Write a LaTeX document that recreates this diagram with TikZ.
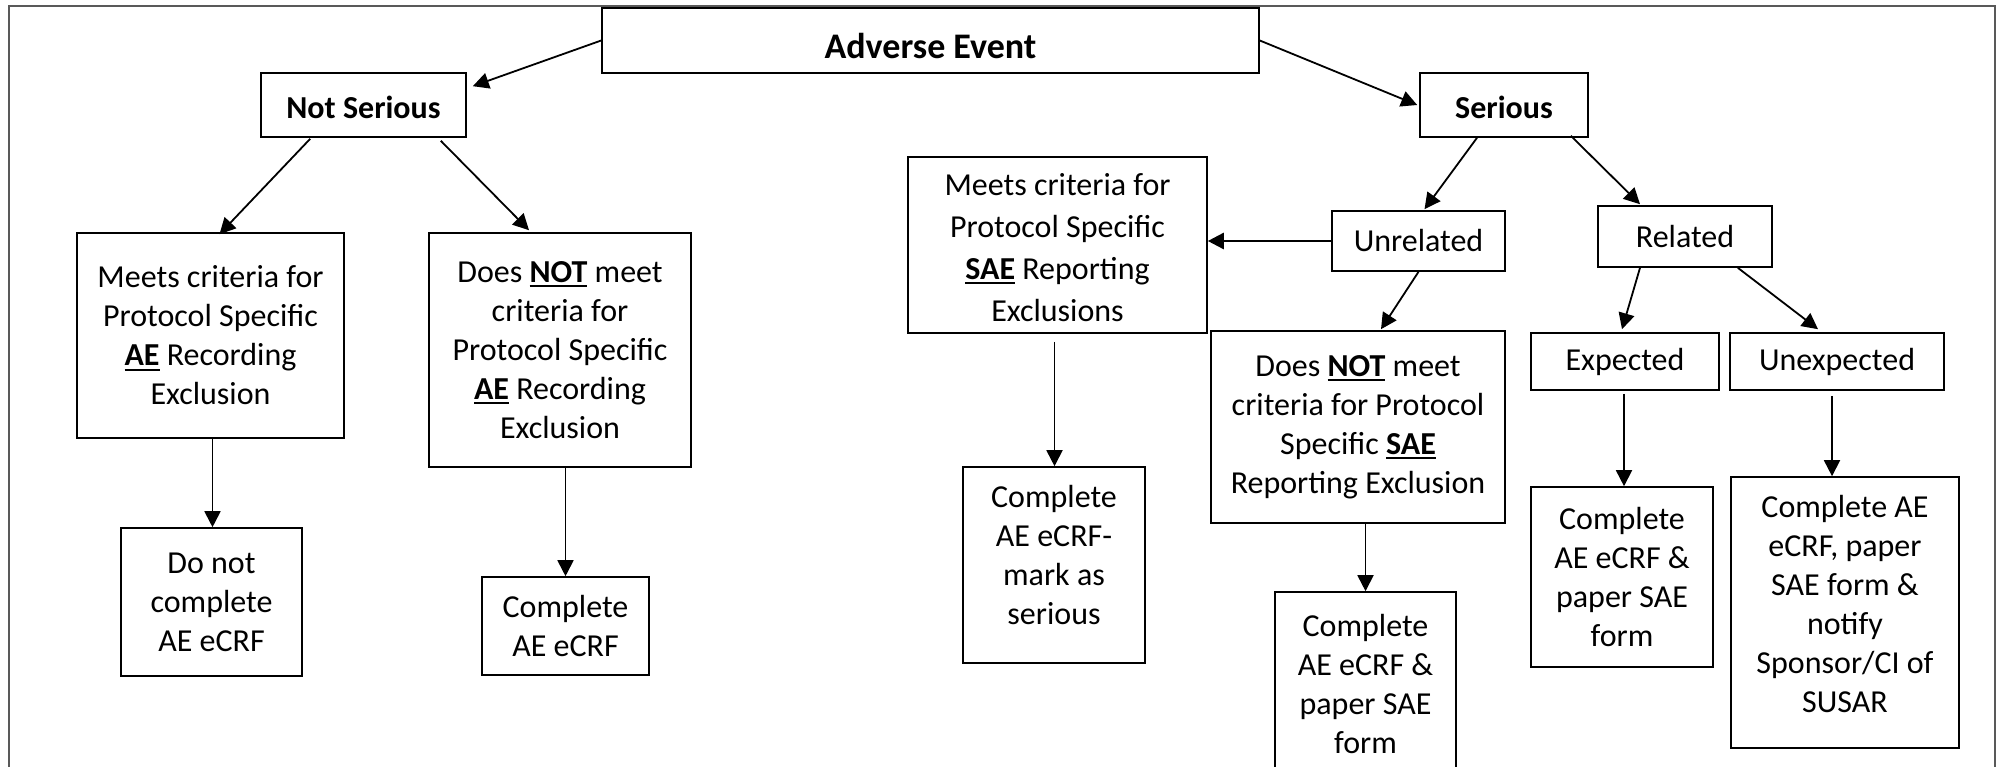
\documentclass[tikz,border=0pt]{standalone}
\usepackage{fontspec}
\setmainfont{Carlito}
\usetikzlibrary{arrows.meta,calc}
\newcommand\ulbold[1]{\setbox0\hbox{\textbf{#1}}\rlap{\rule[-2.3pt]{\wd0}{0.9pt}}\copy0\relax}
\newcommand\liftby[2]{\raisebox{#1}[\height][\depth]{#2}}
\tikzset{
  box/.style={draw, line width=0.8pt, align=center, inner sep=0pt,
    font=\fontsize{16}{19.5}\selectfont},
  head/.style={box, font=\fontsize{16}{19.5}\selectfont\bfseries},
  arr/.style={-{Triangle[length=8pt,width=8pt]}, line width=0.9pt},
}
\begin{document}
\begin{tikzpicture}[x=0.5pt,y=-0.5pt]
\clip (0,0) rectangle (2000,766);
\fill[white] (0,0) rectangle (2000,766);
\draw[black!65, line width=1pt] (9,790) -- (9,6) -- (1995,6) -- (1995,790);

\node[head, font=\fontsize{18}{21}\selectfont\bfseries, minimum width=328.5pt, minimum height=32.5pt] (ae) at (930.5,40.5) {\liftby{-2.5pt}{Adverse Event}};
\node[head, minimum width=102.5pt, minimum height=32pt] (ns) at (363.5,105) {\liftby{-1.3pt}{Not Serious}};
\node[head, minimum width=84pt, minimum height=32pt] (ser) at (1504,105) {\liftby{-1.3pt}{Serious}};

\node[box, minimum width=133.5pt, minimum height=102.5pt] (mae) at (210.5,335.5)
  {Meets criteria for\\ Protocol Specific\\ \ulbold{AE} Recording\\ Exclusion};
\node[box, minimum width=131pt, minimum height=117pt] (dae) at (560,350)
  {Does \ulbold{NOT} meet\\ criteria for\\ Protocol Specific\\ \ulbold{AE} Recording\\ Exclusion};
\node[box, minimum width=90.5pt, minimum height=74pt] (dn) at (211.5,602)
  {Do not\\ complete\\ AE eCRF};
\node[box, minimum width=83.5pt, minimum height=49pt] (cae) at (565.5,626)
  {Complete\\ AE eCRF};

\node[box, font=\fontsize{16}{21}\selectfont, minimum width=149.5pt, minimum height=88pt] (msae) at (1057.5,245)
  {\liftby{-2.5pt}{\begin{tabular}{@{}c@{}}Meets criteria for\\ Protocol Specific\\ \ulbold{SAE} Reporting\\ Exclusions\end{tabular}}};
\node[box, minimum width=86.5pt, minimum height=30pt] (unr) at (1418.5,241) {Unrelated};
\node[box, minimum width=87pt, minimum height=30.5pt] (rel) at (1685,236.5) {Related};
\node[box, minimum width=147pt, minimum height=96pt] (dsae) at (1358,427)
  {Does \ulbold{NOT} meet\\ criteria for Protocol\\ Specific \ulbold{SAE}\\ Reporting Exclusion};
\node[box, minimum width=94pt, minimum height=28.5pt] (exp) at (1625,361.5) {Expected};
\node[box, minimum width=107pt, minimum height=28.5pt] (unexp) at (1837,361.5) {Unexpected};

\node[box, minimum width=91pt, minimum height=98pt] (cmark) at (1054,565)
  {\liftby{3.2pt}{\begin{tabular}{@{}c@{}}Complete\\ AE eCRF-\\ mark as\\ serious\end{tabular}}};
\node[box, minimum width=90.5pt, minimum height=92pt] (cmid) at (1365.5,684)
  {Complete\\ AE eCRF \&\\ paper SAE\\ form};
\node[box, minimum width=91pt, minimum height=90pt] (cexp) at (1622,577)
  {Complete\\ AE eCRF \&\\ paper SAE\\ form};
\node[box, minimum width=114pt, minimum height=135.5pt] (cun) at (1845,612.5)
  {\liftby{2.5pt}{\begin{tabular}{@{}c@{}}Complete AE\\ eCRF, paper\\ SAE form \&\\ notify\\ Sponsor/CI of\\ SUSAR\end{tabular}}};

% connectors
\draw[arr] (ae.west) -- ([shift={(6,14)}]ns.north east);
\draw[arr] (ae.east) -- ([shift={(-2,0)}]ser.west);
\draw[arr] ([shift={(50,1)}]ns.south west) -- ([shift={(9,2)}]mae.north);
\draw[arr] ([shift={(-26,3)}]ns.south east) -- ([shift={(-31,-2)}]dae.north);
\draw[arr] ([shift={(2,0)}]mae.south) -- ([shift={(2,0)}]mae.south |- dn.north);
\draw[arr] (cae.north |- dae.south) -- (cae.north);
\draw[arr] ([shift={(-27,0)}]ser.south) -- ([shift={(6,-1)}]unr.north);
\draw[arr] ([shift={(-18,-2)}]ser.south east) -- ([shift={(-45,-1)}]rel.north);
\draw[arr, line width=1.3pt] (unr.west) -- (unr.west -| msae.east);
\draw[arr] (unr.south) -- ([shift={(23,-1)}]dsae.north);
\draw[arr] ([shift={(-45,0)}]rel.south) -- ([shift={(-3,-3)}]exp.north);
\draw[arr] ([shift={(-35,0)}]rel.south east) -- ([shift={(-19,-3)}]unexp.north);
\draw[arr] ([shift={(-3,8)}]msae.south) -- ([shift={(-3,0)}]msae.south |- cmark.north);
\draw[arr] (cmid.north |- dsae.south) -- (cmid.north);
\draw[arr] ([shift={(-1,3)}]exp.south) -- ([shift={(-1,0)}]exp.south |- cexp.north);
\draw[arr] ([shift={(-5,5)}]unexp.south) -- ([shift={(-5,0)}]unexp.south |- cun.north);
\end{tikzpicture}
\end{document}
